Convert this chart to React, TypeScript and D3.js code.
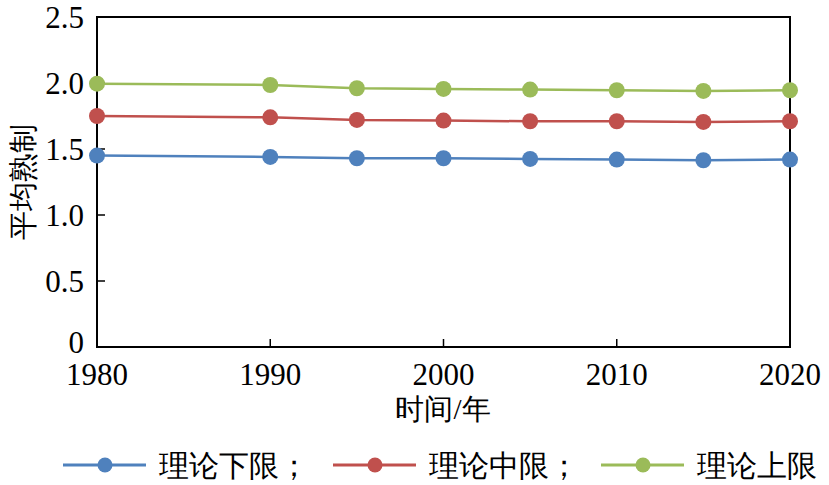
import React from "react";
import * as d3 from "d3";

const years = [1980, 1990, 1995, 2000, 2005, 2010, 2015, 2020];
const lower = [1.45, 1.44, 1.43, 1.43, 1.425, 1.42, 1.415, 1.42];
const middle = [1.75, 1.74, 1.72, 1.715, 1.71, 1.71, 1.705, 1.71];
const upper = [1.995, 1.985, 1.96, 1.955, 1.95, 1.945, 1.94, 1.945];
const seriesNames = ["理论下限；", "理论中限；", "理论上限"];
const colors = ["#4f81bd", "#c0504d", "#9bbb59"];
const yTicks = [0, 0.5, 1.0, 1.5, 2.0, 2.5];
const xTicks = [1980, 1990, 2000, 2010, 2020];

export default function App() {
  const W = 829, H = 485;
  const x = d3.scaleLinear().domain([1980, 2020]).range([97, 790]);
  const y = d3.scaleLinear().domain([0, 2.5]).range([347, 17]);
  const line = d3.line<number>().x((_, i) => x(years[i])).y((v) => y(v));
  const all = [lower, middle, upper];
  const font = "Liberation Serif, serif";
  const legendX = [63, 333, 601];
  return (
    <svg width={W} height={H} style={{ position: "absolute", left: 0, top: 0 }}>
      <rect x={0} y={0} width={W} height={H} fill="white" />
      {yTicks.map((t) => (
        <line key={"yt" + t} x1={x(1980)} x2={x(1980) + 8} y1={y(t)} y2={y(t)} stroke="black" strokeWidth={1.5} />
      ))}
      {xTicks.map((t) => (
        <line key={"xt" + t} x1={x(t)} x2={x(t)} y1={y(0)} y2={y(0) - 8} stroke="black" strokeWidth={1.5} />
      ))}
      <rect x={x(1980)} y={y(2.5)} width={x(2020) - x(1980)} height={y(0) - y(2.5)} fill="none" stroke="black" strokeWidth={2} />
      {yTicks.map((t) => (
        <text key={"yl" + t} x={84} y={t === 0 ? y(t) - 5 : y(t)} dy="0.35em" textAnchor="end" fontFamily={font} fontSize={31}>
          {t === 0 ? "0" : t.toFixed(1)}
        </text>
      ))}
      {xTicks.map((t) => (
        <text key={"xl" + t} x={x(t)} y={385} textAnchor="middle" fontFamily={font} fontSize={31}>
          {t}
        </text>
      ))}
      <text x={443} y={419} textAnchor="middle" fontFamily={font} fontSize={29}>时间/年</text>
      <text transform={`translate(33,182) rotate(-90)`} textAnchor="middle" fontFamily={font} fontSize={29}>平均熟制</text>
      {all.map((s, k) => (
        <g key={"s" + k}>
          <path d={line(s) || ""} fill="none" stroke={colors[k]} strokeWidth={2.5} />
          {s.map((v, i) => (
            <circle key={i} cx={x(years[i])} cy={y(v)} r={8} fill={colors[k]} />
          ))}
        </g>
      ))}
      {seriesNames.map((n, k) => (
        <g key={"lg" + k}>
          <line x1={legendX[k]} x2={legendX[k] + 83} y1={465} y2={465} stroke={colors[k]} strokeWidth={3} />
          <circle cx={legendX[k] + 42} cy={465} r={7.5} fill={colors[k]} />
          <text x={legendX[k] + 96} y={465} dy="0.36em" fontFamily={font} fontSize={30}>{n}</text>
        </g>
      ))}
    </svg>
  );
}
